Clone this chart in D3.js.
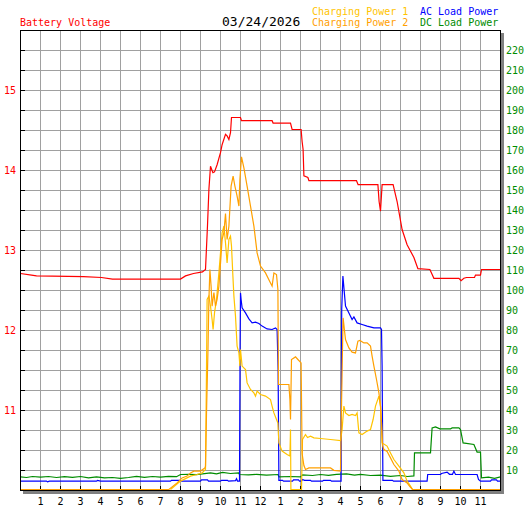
<!DOCTYPE html>
<html>
<head>
<meta charset="utf-8">
<script src="https://cdn.jsdelivr.net/npm/d3@7"></script>
<style>
  body { margin: 0; background: #fff; }
  text { font-family: "DejaVu Sans Mono", monospace; }
</style>
</head>
<body>
<div class="canvas"></div>
<script>

// hour of day (0-24) -> value
const batteryVoltage = [
  [0, 12.70], [0.55, 12.68], [0.8, 12.67], [3.15, 12.66], [4.05, 12.65], [4.6, 12.63],
  [8.0, 12.63], [8.25, 12.67], [8.65, 12.70], [9.1, 12.72], [9.25, 12.75], [9.35, 13.3],
  [9.42, 13.75], [9.5, 14.04], [9.62, 13.96], [9.7, 13.97], [9.83, 14.06], [10.0, 14.21],
  [10.08, 14.31], [10.25, 14.44], [10.33, 14.42], [10.42, 14.375], [10.5, 14.46], [10.55, 14.65],
  [11.0, 14.65], [11.05, 14.61], [12.58, 14.61], [12.63, 14.58], [13.5, 14.58], [13.58, 14.5],
  [14.03, 14.5], [14.08, 14.35], [14.13, 14.25], [14.17, 13.92], [14.37, 13.9], [14.42, 13.86],
  [16.8, 13.86], [16.88, 13.81], [17.87, 13.81], [17.93, 13.6], [18.0, 13.48], [18.08, 13.81],
  [18.63, 13.81], [18.83, 13.6], [19.08, 13.25], [19.33, 13.06], [19.67, 12.9], [19.87, 12.76],
  [20.47, 12.75], [20.67, 12.64], [21.92, 12.64], [22.03, 12.61], [22.17, 12.64], [22.3, 12.65],
  [22.7, 12.65], [22.75, 12.68], [23.0, 12.68], [23.05, 12.75], [24, 12.75]
];

const chargingPower1 = [
  [7.5, 0], [8.0, 4.2], [8.5, 6.7], [8.83, 7.5], [9.08, 8.3], [9.25, 10], [9.3, 60],
  [9.33, 95], [9.42, 96.7], [9.5, 91.7], [9.58, 85], [9.63, 80], [9.7, 88.3], [9.8, 95],
  [9.92, 108.3], [10.0, 118.3], [10.08, 128.3], [10.17, 131.7], [10.25, 123.3], [10.33, 113.3],
  [10.42, 125], [10.5, 126.7], [10.55, 121.7], [10.62, 106.7], [10.67, 96.7], [10.75, 86.7],
  [10.83, 71.7], [10.92, 68.3], [10.97, 61.7], [11.0, 70], [11.08, 61.7], [11.25, 60],
  [11.33, 53.3], [11.5, 50], [11.67, 48.3], [11.75, 46.7], [11.83, 49.2], [12.0, 47.5],
  [12.25, 46.7], [12.5, 45], [12.58, 41.7], [12.67, 38.3], [12.8, 35], [12.87, 33.3],
  [12.92, 23.3], [13.08, 19.2], [13.33, 17.5], [13.47, 16.7], [13.5, 30], [13.52, 0],
  [14.05, 0], [14.1, 25], [14.25, 27.5], [14.35, 26], [14.5, 26.7], [14.67, 25.8],
  [15.0, 25.5], [15.5, 25], [16.0, 24.5], [16.08, 30], [16.17, 41.7], [16.25, 38.3],
  [16.42, 37], [16.58, 37.5], [16.75, 37], [16.83, 38.3], [16.92, 28.3], [17.08, 27.5],
  [17.33, 29.2], [17.5, 30], [17.63, 35], [17.75, 41.7], [17.92, 46.7], [18.0, 41.7],
  [18.05, 33.3], [18.08, 23.3], [18.33, 21.7], [18.5, 18.3], [18.67, 15], [18.92, 11.7],
  [19.17, 8.3], [19.33, 4.2], [19.5, 1.7], [19.6, 0]
];

const chargingPower2 = [
  [0, 0], [7.42, 0], [7.83, 3.3], [8.08, 5.8], [8.33, 6.7], [8.5, 8.3], [8.67, 9.2],
  [9.0, 9.2], [9.22, 10.8], [9.25, 11.7], [9.3, 38], [9.37, 68], [9.42, 95], [9.47, 110],
  [9.53, 101.7], [9.58, 91.7], [9.67, 98.5], [9.75, 91.7], [9.83, 95], [9.92, 101.7],
  [10.0, 113], [10.08, 125], [10.17, 128.5], [10.25, 138], [10.33, 125], [10.42, 131.7],
  [10.53, 151.7], [10.63, 156.7], [10.72, 151.7], [10.83, 146.7], [10.92, 141.7], [10.97, 155],
  [11.05, 166.3], [11.17, 160.8], [11.33, 151.7], [11.5, 141.7], [11.67, 131.7], [11.83, 118.3],
  [12.0, 111.7], [12.25, 108.3], [12.5, 103.3], [12.58, 101.7], [12.67, 108.3], [12.8, 107.5],
  [12.87, 100], [12.9, 52.5], [13.42, 52.5], [13.47, 45], [13.5, 35], [13.55, 65],
  [13.75, 66.3], [13.87, 65], [14.03, 63.3], [14.08, 18], [14.17, 12], [14.25, 10],
  [14.42, 10.8], [15.5, 10.8], [15.67, 9.6], [16.0, 9.2], [16.08, 60], [16.13, 85.8],
  [16.25, 75], [16.42, 70.8], [16.58, 68.7], [16.75, 68.3], [16.87, 74.2], [16.97, 74.5],
  [17.17, 73.3], [17.33, 73.3], [17.5, 71.7], [17.58, 66.7], [17.67, 61.7], [17.8, 55],
  [17.92, 48.3], [18.0, 41.7], [18.05, 33], [18.1, 22], [18.17, 20], [18.33, 19],
  [18.5, 15.8], [18.67, 12.5], [18.92, 9.2], [19.08, 5], [19.33, 3.3], [19.47, 1.5],
  [19.6, 0], [24, 0]
];

const acLoadPower = [
  [0, 4.2], [1.3, 4.2], [1.35, 3.8], [1.45, 4.2], [3.8, 4.2], [3.85, 4.6], [4.0, 4.2],
  [7.5, 4.2], [7.55, 4.6], [8.0, 4.6], [8.05, 4.2], [9.0, 4.2], [9.05, 4.8], [9.35, 4.8],
  [9.4, 4.2], [10.0, 4.2], [10.05, 4.6], [10.35, 4.6], [10.4, 4.2], [10.75, 4.4], [10.8, 5.4],
  [10.85, 4.2], [10.95, 4.2], [10.98, 72], [11.0, 98.3], [11.03, 95], [11.08, 90.8],
  [11.25, 88.3], [11.42, 85.3], [11.58, 83.3], [11.75, 83.7], [11.92, 83], [12.08, 81.7],
  [12.33, 80.3], [12.58, 80], [12.75, 80.8], [12.83, 80], [12.88, 60], [12.92, 4.6],
  [13.1, 4.6], [13.15, 4.2], [13.6, 4.2], [13.65, 4.8], [13.9, 4.8], [13.95, 4.2],
  [14.05, 4.2], [14.1, 5.0], [14.2, 4.6], [14.5, 4.6], [14.55, 4.2], [15.1, 4.2],
  [15.15, 4.6], [15.5, 4.6], [15.55, 4.2], [16.03, 4.2], [16.06, 90], [16.12, 106.7],
  [16.25, 91.7], [16.42, 88.3], [16.58, 85], [16.67, 86.3], [16.83, 83.3], [17.08, 82.5],
  [17.33, 81.7], [17.67, 80.8], [18.0, 80.8], [18.05, 80], [18.08, 62], [18.12, 4.6],
  [18.6, 4.6], [18.65, 4.2], [20.33, 4.2], [20.36, 7.5], [21.0, 7.5], [21.05, 8.0],
  [21.33, 8.7], [21.45, 7.6], [21.6, 7.6], [21.67, 9.2], [21.75, 7.5], [22.83, 7.5],
  [22.9, 5.0], [23.0, 4.2], [23.5, 4.2], [23.55, 4.8], [23.8, 4.8], [23.85, 4.2], [24, 4.2]
];

const dcLoadPower = [
  [0, 6.3], [0.3, 6.0], [0.6, 6.5], [1.0, 6.2], [1.4, 6.5], [1.8, 6.0], [2.2, 6.4],
  [2.6, 6.1], [3.0, 6.5], [3.4, 5.8], [3.8, 6.3], [4.2, 5.8], [4.6, 6.0], [5.0, 5.6],
  [5.4, 6.0], [5.8, 6.6], [6.2, 6.1], [6.6, 6.5], [7.0, 6.2], [7.4, 6.6], [7.8, 6.4],
  [8.0, 7.5], [8.4, 7.6], [8.8, 7.4], [9.5, 8.3], [9.8, 7.8], [10.1, 8.6], [10.5, 8.0],
  [10.9, 8.3], [10.95, 7.5], [11.4, 7.3], [11.8, 7.6], [12.3, 7.2], [12.88, 7.5],
  [12.92, 6.3], [13.5, 6.5], [14.0, 6.3], [14.1, 7.3], [14.6, 7.0], [15.0, 7.5],
  [15.4, 7.1], [15.8, 7.6], [16.3, 7.8], [16.7, 7.2], [17.0, 7.6], [17.5, 7.0],
  [18.0, 7.2], [18.5, 6.6], [19.0, 7.0], [19.35, 6.5], [19.67, 6.8], [19.7, 18.3],
  [20.5, 18.3], [20.58, 30.8], [20.75, 31.3], [20.97, 30.3], [21.5, 30.3], [21.58, 30.8],
  [21.92, 30.8], [22.0, 30], [22.13, 23.3], [22.67, 22.5], [22.83, 18.7], [23.0, 18.7],
  [23.05, 5.8], [23.4, 6.2], [23.7, 5.6], [24, 6.3]
];

const hourLabels = ['1','2','3','4','5','6','7','8','9','10','11','12',
                    '1','2','3','4','5','6','7','8','9','10','11'];
const voltTicks = [11, 12, 13, 14, 15];
const powerTicks = d3.range(10, 230, 10);
const chartDate = '03/24/2026';

const colors = {
  volt: '#ff0000', cp1: '#ffc400', cp2: '#ffa000', ac: '#0000ff', dc: '#008c00'
};

const margin = { top: 30, right: 27, bottom: 20, left: 20 };
const width = 527, height = 510;
const plotW = width - margin.left - margin.right;   // 480
const plotH = height - margin.top - margin.bottom;  // 460

const svg = d3.select('.canvas')
  .append('svg')
    .attr('width', width)
    .attr('height', height);

const x = d3.scaleLinear().domain([0, 24]).range([margin.left, margin.left + plotW]);
const yV = d3.scaleLinear().domain([10, 15.75]).range([margin.top + plotH, margin.top]);
const yP = d3.scaleLinear().domain([0, 230]).range([margin.top + plotH, margin.top]);

// frame shadow + background
svg.append('rect')
  .attr('x', margin.left + 3).attr('y', margin.top + 3)
  .attr('width', plotW + 1).attr('height', plotH + 1)
  .attr('fill', '#808080');
svg.append('rect')
  .attr('x', margin.left).attr('y', margin.top)
  .attr('width', plotW + 1).attr('height', plotH + 1)
  .attr('fill', '#fff');

// grid
const grid = svg.append('g').attr('shape-rendering', 'crispEdges');
grid.selectAll('.vgrid')
  .data(d3.range(1, 24))
  .join('line')
    .attr('x1', d => Math.round(x(d)) + 0.5).attr('x2', d => Math.round(x(d)) + 0.5)
    .attr('y1', margin.top).attr('y2', margin.top + plotH)
    .attr('stroke', '#a0a0a0');
grid.selectAll('.hgrid')
  .data(d3.range(10, 230, 10))
  .join('line')
    .attr('x1', margin.left).attr('x2', margin.left + plotW)
    .attr('y1', d => Math.round(yP(d)) + 0.5).attr('y2', d => Math.round(yP(d)) + 0.5)
    .attr('stroke', '#a0a0a0');

// small black ticks inside the frame
grid.selectAll('.btick')
  .data(d3.range(1, 24))
  .join('line')
    .attr('x1', d => Math.round(x(d)) + 0.5).attr('x2', d => Math.round(x(d)) + 0.5)
    .attr('y1', margin.top + plotH - 4).attr('y2', margin.top + plotH)
    .attr('stroke', '#000');
grid.selectAll('.ltick')
  .data(d3.range(10.25, 15.75, 0.25))
  .join('line')
    .attr('x1', margin.left).attr('x2', margin.left + 5)
    .attr('y1', d => Math.round(yV(d)) + 0.5).attr('y2', d => Math.round(yV(d)) + 0.5)
    .attr('stroke', '#000');

// series
const lineV = d3.line().x(d => x(d[0])).y(d => yV(d[1]));
const lineP = d3.line().x(d => x(d[0])).y(d => yP(d[1]));

const lines = svg.append('g').attr('transform', 'translate(0.5,-0.5)');
const series = [
  { data: dcLoadPower, gen: lineP, color: colors.dc },
  { data: acLoadPower, gen: lineP, color: colors.ac },
  { data: chargingPower1, gen: lineP, color: colors.cp1 },
  { data: chargingPower2, gen: lineP, color: colors.cp2 },
  { data: batteryVoltage, gen: lineV, color: colors.volt }
];
series.forEach(s => {
  lines.append('path')
    .datum(s.data)
    .attr('fill', 'none')
    .attr('stroke', s.color)
    .attr('stroke-width', 1.2)
    .attr('stroke-linejoin', 'miter')
    .attr('d', s.gen);
});

// frame
svg.append('rect')
  .attr('x', margin.left + 0.5).attr('y', margin.top + 0.5)
  .attr('width', plotW).attr('height', plotH)
  .attr('fill', 'none')
  .attr('stroke', '#000')
  .attr('shape-rendering', 'crispEdges');

// axes
const xAxis = d3.axisBottom(x)
  .tickValues(d3.range(1, 24))
  .tickFormat((d, i) => hourLabels[i])
  .tickSize(0).tickPadding(8);
const xAxisGroup = svg.append('g')
  .attr('transform', `translate(0, ${margin.top + plotH})`)
  .call(xAxis);

const yAxisLeft = d3.axisLeft(yV)
  .tickValues(voltTicks)
  .tickFormat(d3.format('d'))
  .tickSize(0).tickPadding(4);
const yLeftGroup = svg.append('g')
  .attr('transform', `translate(${margin.left}, 0)`)
  .call(yAxisLeft);

const yAxisRight = d3.axisRight(yP)
  .tickValues(powerTicks)
  .tickSize(0).tickPadding(6);
const yRightGroup = svg.append('g')
  .attr('transform', `translate(${margin.left + plotW}, 0)`)
  .call(yAxisRight);

[xAxisGroup, yLeftGroup, yRightGroup].forEach(g => {
  g.select('.domain').remove();
  g.attr('font-family', '"DejaVu Sans Mono", monospace').attr('font-size', 10);
});
xAxisGroup.selectAll('text').attr('fill', '#000');
yLeftGroup.selectAll('text').attr('fill', colors.volt);
yRightGroup.selectAll('text').attr('fill', colors.dc);

// header texts
const header = svg.append('g').attr('font-size', 10);
header.append('text').attr('x', 20).attr('y', 26).attr('fill', colors.volt).text('Battery Voltage');
header.append('text').attr('x', 222).attr('y', 26).attr('font-size', 13).attr('fill', '#000').text(chartDate);
header.append('text').attr('x', 312).attr('y', 15).attr('fill', colors.cp1).text('Charging Power 1');
header.append('text').attr('x', 312).attr('y', 26).attr('fill', colors.cp2).text('Charging Power 2');
header.append('text').attr('x', 420).attr('y', 15).attr('fill', colors.ac).text('AC Load Power');
header.append('text').attr('x', 420).attr('y', 26).attr('fill', colors.dc).text('DC Load Power');

</script>
</body>
</html>
